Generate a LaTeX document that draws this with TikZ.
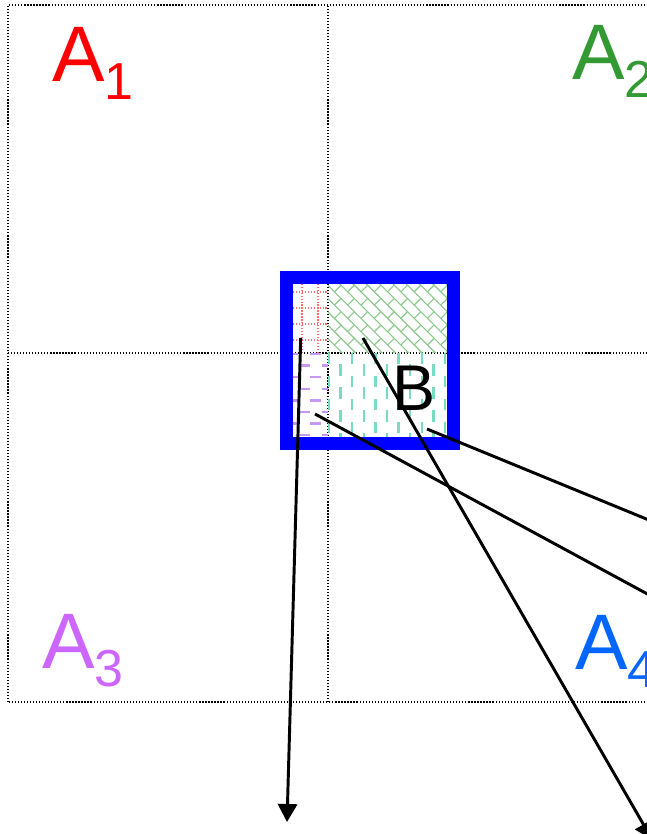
\documentclass[tikz,border=0pt]{standalone}
\usepackage{fontspec}
\setmainfont{Liberation Sans}
\usepackage{xcolor}
\usepackage{tikz}
\usetikzlibrary{positioning,arrows.meta}

\definecolor{areaRed}{RGB}{255,0,0}
\definecolor{areaGreen}{RGB}{51,153,51}
\definecolor{areaPurple}{RGB}{204,102,255}
\definecolor{areaBlue}{RGB}{0,102,255}
\definecolor{hatchRed}{RGB}{255,110,110}
\definecolor{hatchGreen}{RGB}{140,200,140}
\definecolor{hatchPurple}{RGB}{200,150,245}
\definecolor{hatchTeal}{RGB}{120,220,195}
\newcommand{\arealabel}[1]{A\raisebox{-0.45cm}{\fontsize{37}{40}\selectfont #1}}

\begin{document}
\begin{tikzpicture}[
    >={Triangle[length=0.45cm,width=0.48cm]},
    arr/.style={->, line width=2.1pt, black},
    gridline/.style={black, line width=0.85pt, dash pattern=on 0.85pt off 1.3pt},
    area/.style={font=\fontsize{56}{60}\selectfont, anchor=base west, inner sep=0pt},
    frame/.style={
        rectangle, draw=blue, line width=0.325cm, inner sep=0pt,
        minimum width=4.1875cm, minimum height=4.15cm
    },
    redgrid/.style={hatchRed, line width=0.9pt, dash pattern=on 0.9pt off 1.2pt},
    brick/.style={hatchGreen, line width=0.8pt},
    pdash/.style={hatchPurple, line width=1.6pt, dash pattern=on 0.275cm off 0.3cm},
    tdash/.style={hatchTeal, line width=1.7pt, dash pattern=on 0.28cm off 0.295cm}
]

\useasboundingbox (0,0) rectangle (16.175,20.85);
\clip (0,0) rectangle (16.175,20.85);

% ---------------- Area grid ----------------
\draw[gridline] (0.2,3.3) rectangle (16.2,20.725);
\draw[gridline] (8.2,3.3) -- (8.2,20.725);
\draw[gridline] (0.2,12.025) -- (16.2,12.025);

\node[area, text=areaRed]    (A1) at (1.30,18.80) {\arealabel{1}};
\node[area, text=areaGreen]  (A2) at (14.30,18.85) {\arealabel{2}};
\node[area, text=areaPurple] (A3) at (1.05,4.125) {\arealabel{3}};
\node[area, text=areaBlue]   (A4) at (14.375,4.10) {\arealabel{4}};

% ---------------- Overlap hatches ----------------
\begin{scope}
\clip (7.325,12.025) rectangle (8.2,13.75);
\foreach \x in {7.55,7.95}
    \draw[redgrid] (\x,12.025) -- (\x,13.75);
\foreach \y in {12.35,12.75,13.15,13.55}
    \draw[redgrid] (7.325,\y) -- (8.2,\y);
\end{scope}

\begin{scope}
\clip (8.2,12.025) rectangle (11.175,13.75);
\begin{scope}[shift={(9.69,12.89)}, rotate=-45]
\foreach \k in {-10,...,10}{
    \draw[brick] (-2.5,\k*0.235) -- (2.5,\k*0.235);
    \pgfmathsetmacro\off{0.235*mod(\k+20,2)}
    \foreach \j in {-6,...,6}
        \draw[brick] (\j*0.47+\off,\k*0.235) -- ++(0,0.235);
}
\end{scope}
\end{scope}

\begin{scope}
\clip (7.325,9.925) rectangle (8.2,12.025);
\foreach \r in {0,...,7}{
    \pgfmathsetmacro\ph{0.2875*mod(\r,2)}
    \draw[pdash, dash phase=\ph cm] (7.175,12.0-\r*0.29) -- (8.4,12.0-\r*0.29);
}
\end{scope}

\begin{scope}
\clip (8.2,9.925) rectangle (11.175,12.025);
\foreach \c in {0,...,10}{
    \pgfmathsetmacro\ph{0.2875*mod(\c,2)}
    \draw[tdash, dash phase=\ph cm] (8.225+\c*0.29,12.025) -- (8.225+\c*0.29,9.8);
}
\end{scope}

% ---------------- Box B ----------------
\node[frame] (boxB) at (9.256,11.8375) {};
\node[font=\fontsize{46}{50}\selectfont, anchor=base west, inner sep=0pt] (labelB) at (9.80,10.575) {B};

% ---------------- Arrows ----------------
\coordinate (fromRed)    at (7.5175,12.40);
\coordinate (fromGreen)  at (9.075,12.40);
\coordinate (fromTeal)   at (10.675,10.125);
\coordinate (fromPurple) at (7.875,10.50);
\coordinate (toRed)      at (7.175,0.30);
\coordinate (toGreen)    at (16.31,-0.15);
\coordinate (toTeal)     at (17.50,7.325);
\coordinate (toPurple)   at (17.50,5.2875);

\draw[arr] (fromRed) -- (toRed);
\draw[arr] (fromGreen) -- (toGreen);
\draw[arr] (fromTeal) -- (toTeal);
\draw[arr] (fromPurple) -- (toPurple);

\end{tikzpicture}
\end{document}
